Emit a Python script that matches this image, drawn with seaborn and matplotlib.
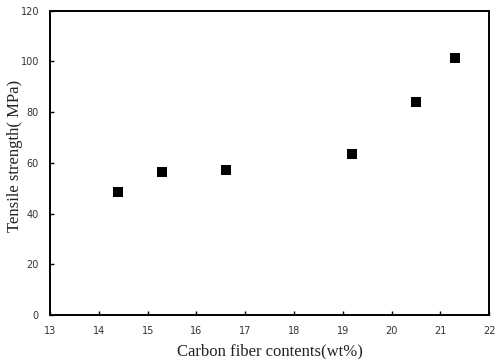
import matplotlib
matplotlib.use("Agg")
import matplotlib.pyplot as plt
import pandas as pd
import seaborn as sns

# Values
carbon_fiber = [14.4, 15.3, 16.6, 19.2, 20.5, 21.3]
tensile_strength = [48.6, 56.2, 57.2, 63.4, 83.9, 101.3]

x_ticks = list(range(13, 23))
y_ticks = list(range(0, 121, 20))

df = pd.DataFrame({"content": carbon_fiber, "strength": tensile_strength})

sns.set_theme(style="white")
plt.rcParams["font.family"] = ["DejaVu Sans"]

fig = plt.figure(figsize=(4.96, 3.59), dpi=100)
ax = fig.add_axes([0.101, 0.1226, 0.885, 0.848])

sns.scatterplot(
    data=df,
    x="content",
    y="strength",
    marker="s",
    s=55,
    color="black",
    edgecolor="black",
    linewidth=0,
    ax=ax,
)

ax.set_xlim(13, 22)
ax.set_ylim(0, 120)
ax.set_xticks(x_ticks)
ax.set_yticks(y_ticks)
# seaborn's white style hides ticks, the reference has short inward ones
ax.tick_params(bottom=True, left=True, direction="in", length=3, width=1,
               colors="black", labelsize=7, labelcolor="#333333")
ax.tick_params(axis="x", pad=8)
ax.tick_params(axis="y", pad=8)

for spine in ax.spines.values():
    spine.set_visible(True)
    spine.set_color("black")
    spine.set_linewidth(1.4)

serif = ["Liberation Serif", "DejaVu Serif"]
ax.set_xlabel("Carbon fiber contents(wt%)", family=serif, fontsize=12,
              color="#222222", va="center")
ax.set_ylabel("Tensile strength( MPa)", family=serif, fontsize=12,
              color="#222222", va="center")
ax.xaxis.set_label_coords(0.5, -0.118)
ax.yaxis.set_label_coords(-0.08, 0.522)

fig.savefig("out.png", dpi=100)
